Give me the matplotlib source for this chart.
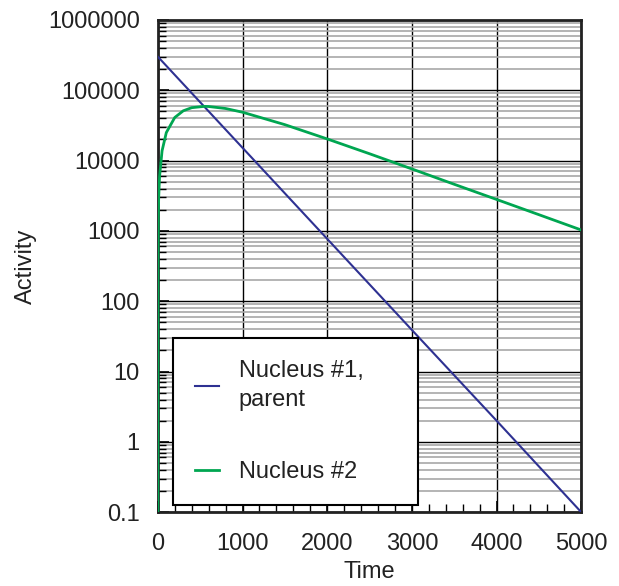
import matplotlib
matplotlib.use("Agg")
import matplotlib.pyplot as plt
from matplotlib.ticker import FixedLocator, LogLocator, NullFormatter, MultipleLocator

plt.rcParams['font.family'] = ['Liberation Sans', 'DejaVu Sans']

# === data ===
t_parent = [0, 1000, 2000, 3000, 4000, 5000]
a_parent = [300000, 15200, 770, 39, 2.0, 0.1]

t_daughter = [0, 1, 5, 10, 20, 50, 100, 200, 300, 400, 550, 600, 800, 1000,
              1500, 2000, 2500, 3000, 3500, 4000, 4500, 5000]
a_daughter = [0.1, 300, 1500, 3000, 5900, 13800, 25000, 41000, 51000, 56500,
              59000, 58700, 55000, 48700, 32400, 20300, 12500, 7600, 4600,
              2800, 1700, 1030]

x_ticks = [0, 1000, 2000, 3000, 4000, 5000]
y_ticks = [0.1, 1, 10, 100, 1000, 10000, 100000, 1000000]
y_labels = ["0.1", "1", "10", "100", "1000", "10000", "100000", "1000000"]

txt = '#222222'

fig = plt.figure(figsize=(6.19, 5.86), dpi=100)
ax = fig.add_axes([0.255, 0.126, 0.684, 0.840])

ax.plot(t_parent, a_parent, color='#2e3192', lw=1.5, zorder=3,
        label='Nucleus #1,\nparent')
ax.plot(t_daughter, a_daughter, color='#00a651', lw=2.0, zorder=3,
        label='Nucleus #2')

ax.set_yscale('log')
ax.set_xlim(0, 5000)
ax.set_ylim(0.1, 1e6)

ax.xaxis.set_major_locator(FixedLocator(x_ticks))
ax.xaxis.set_minor_locator(MultipleLocator(200))
ax.set_xticklabels([str(v) for v in x_ticks])
ax.yaxis.set_major_locator(FixedLocator(y_ticks))
ax.set_yticklabels(y_labels)
ax.yaxis.set_minor_locator(LogLocator(base=10, subs=range(2, 10), numticks=20))
ax.yaxis.set_minor_formatter(NullFormatter())

# --- grid ---
ax.grid(True, which='major', axis='both', color='black', lw=1.0)
ax.grid(True, which='minor', axis='y', color='#a8a8a8', lw=1.2)
ax.set_axisbelow(True)

ax.tick_params(which='both', direction='in', top=False, right=False,
               colors='black', labelcolor=txt, labelsize=17)
ax.tick_params(which='major', length=8, width=1.2)
ax.tick_params(which='minor', length=6, width=1.0)
ax.tick_params(axis='y', pad=13)
ax.tick_params(axis='x', pad=15)

for s in ax.spines.values():
    s.set_linewidth(2)
    s.set_color('#222222')
    s.set_zorder(2.5)

ax.set_xlabel('Time', fontsize=17, color=txt, labelpad=4)
ax.set_ylabel('Activity', fontsize=17, color=txt, labelpad=8)

leg = ax.legend(loc='lower left', bbox_to_anchor=(0.035, 0.014, 0.579, 0.35),
                mode='expand', fontsize=17,
                frameon=True, fancybox=False, framealpha=1, edgecolor='black',
                handlelength=1.0, handletextpad=0.85, labelspacing=2.1,
                borderpad=0.95, borderaxespad=0)
leg.get_frame().set_linewidth(1.5)
leg.set_zorder(4)
for t in leg.get_texts():
    t.set_color(txt)
    t.set_linespacing(1.4)

fig.savefig('out.png', dpi=100)
